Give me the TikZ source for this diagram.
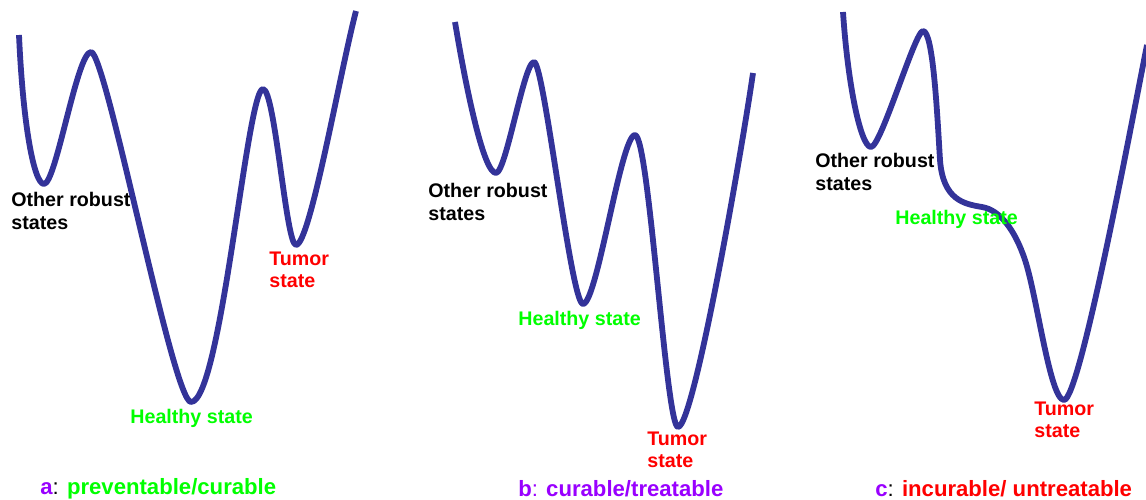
\documentclass[tikz,border=0pt]{standalone}
\usepackage{fontspec}
\setmainfont{Liberation Sans}
\definecolor{curveblue}{RGB}{51,51,153}
\definecolor{healthgreen}{RGB}{0,255,0}
\definecolor{tumorred}{RGB}{255,0,0}
\definecolor{tagpurple}{RGB}{153,0,255}

\begin{document}
\begin{tikzpicture}[
    x=0.02cm, y=-0.02cm,
    every node/.style={font=\fontsize{11.2}{12.6}\selectfont\bfseries, inner sep=0pt, anchor=west},
    lbl/.style={align=left},
    caplabel/.style={font=\fontsize{12.6}{14}\selectfont\bfseries},
    landscape/.style={draw=curveblue, line width=3.3pt, line join=round}
]
\useasboundingbox (0,0) rectangle (1146,500);

% a: deep healthy valley
\draw[landscape] (19,35) .. controls +(4,90) and +(-10,0) .. (44,184)
    .. controls +(12,0) and +(-14,0) .. (91,52)
    .. controls +(15,0) and +(-18,0) .. (191,402)
    .. controls +(30,0) and +(-16,0) .. (263,89)
    .. controls +(12,0) and +(-10,0) .. (296,245)
    .. controls +(14,0) and +(-16,61) .. (356,11);

% b: tumor valley deeper than healthy one
\draw[landscape] (455,22) .. controls +(12,72) and +(-12,0) .. (496,173)
    .. controls +(10,0) and +(-10,0) .. (534,62)
    .. controls +(10,0) and +(-12,0) .. (583,304)
    .. controls +(14,0) and +(-14,0) .. (635,135)
    .. controls +(14,0) and +(-12,0) .. (678,427)
    .. controls +(16,0) and +(-10,70) .. (753,73);

% c: healthy state is only a shoulder
\draw[landscape] (843,12) .. controls +(5,75) and +(-10,0) .. (871,147)
    .. controls +(10,0) and +(-8,0) .. (923,31)
    .. controls +(10,0) and +(-3,-50) .. (940,160)
    .. controls +(3,40) and +(-18,-3) .. (982,207)
    .. controls +(18,3) and +(-10,-30) .. (1025,260)
    .. controls +(12,36) and +(-14,0) .. (1064,400)
    .. controls +(16,0) and +(-14,70) .. (1147,45);

\node[lbl] (otherA) at (11,211) {Other robust\\states};
\node[lbl, text=tumorred] (tumorA) at (269,270) {Tumor\\state};
\node[text=healthgreen] (healthyA) at (130,418) {Healthy state};

\node[lbl] (otherB) at (428,202) {Other robust\\states};
\node[text=healthgreen] (healthyB) at (518,320) {Healthy state};
\node[lbl, text=tumorred] (tumorB) at (647,450) {Tumor\\state};

\node[lbl] (otherC) at (815,172) {Other robust\\states};
\node[text=healthgreen] (healthyC) at (895,219) {Healthy state};
\node[lbl, text=tumorred] (tumorC) at (1034,420) {Tumor\\state};

\node[caplabel] (capA) at (40,489) {\textcolor{tagpurple}{a}{\mdseries:} \textcolor{healthgreen}{preventable/curable}};
\node[caplabel, text=tagpurple] (capB) at (518,489) {b{\mdseries:} curable/treatable};
\node[caplabel] (capC) at (875,489) {\textcolor{tagpurple}{c}{\mdseries:} \textcolor{tumorred}{incurable/ untreatable}};
\end{tikzpicture}
\end{document}
